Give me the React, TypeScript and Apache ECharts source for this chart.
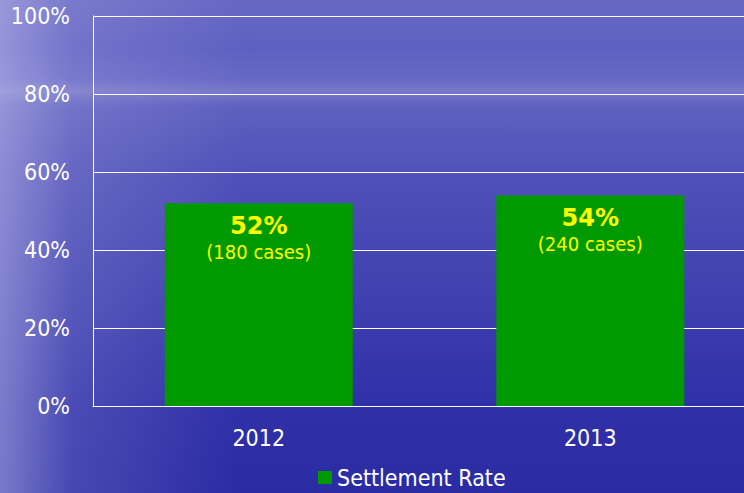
import React, { useEffect, useRef } from "react";
import * as echarts from "echarts";

const categories = ["2012", "2013"];
const settlementRate = [52, 54];
const caseCounts = [180, 240];
const yTicks = [0, 20, 40, 60, 80, 100];
const seriesName = "Settlement Rate";

const FONT = "'DejaVu Sans Condensed', Tahoma, 'DejaVu Sans', sans-serif";

export default function App() {
  const ref = useRef<HTMLDivElement>(null);
  useEffect(() => {
    if (!ref.current) return;
    const chart = echarts.init(ref.current, null, { renderer: "svg" });
    const W = 756;
    const H = 493;
    chart.setOption({
      animation: false,
      graphic: [
        {
          type: "rect",
          silent: true,
          z: -10,
          shape: { x: 0, y: 0, width: W, height: H },
          style: {
            fill: new echarts.graphic.LinearGradient(0, 0, 0, 1, [
              { offset: 0, color: "#6868c4" },
              { offset: 0.1, color: "#6060c2" },
              { offset: 0.16, color: "#6868c6" },
              { offset: 0.185, color: "#7878c9" },
              { offset: 0.215, color: "#6060c0" },
              { offset: 0.35, color: "#5151b9" },
              { offset: 0.6, color: "#4040b0" },
              { offset: 0.82, color: "#3030a8" },
              { offset: 1, color: "#2b2ba4" },
            ]),
          },
        },
        {
          type: "rect",
          silent: true,
          z: -9,
          shape: { x: 0, y: 0, width: 240, height: H },
          style: {
            fill: new echarts.graphic.LinearGradient(0, 0, 1, 0, [
              { offset: 0, color: "rgba(200,200,240,0.5)" },
              { offset: 0.3, color: "rgba(200,200,240,0.18)" },
              { offset: 1, color: "rgba(200,200,240,0)" },
            ]),
          },
        },
      ],
      grid: { left: 93, top: 16, right: 0, height: 390, containLabel: false },
      legend: {
        data: [seriesName],
        left: 318,
        top: 466,
        padding: 0,
        itemWidth: 14,
        itemHeight: 13,
        itemGap: 5,
        icon: "rect",
        textStyle: { color: "#ffffff", fontSize: 23, fontFamily: FONT },
      },
      xAxis: {
        type: "category",
        data: categories,
        axisLine: { show: true, lineStyle: { color: "#ffffff", width: 1 } },
        axisTick: { show: false },
        axisLabel: { color: "#ffffff", fontSize: 23, fontFamily: FONT, margin: 20 },
      },
      yAxis: {
        type: "value",
        min: 0,
        max: 100,
        interval: 20,
        axisLine: { show: true, lineStyle: { color: "#ffffff", width: 1 } },
        axisTick: { show: false },
        splitLine: { show: true, lineStyle: { color: "#ffffff", width: 1 } },
        axisLabel: {
          color: "#ffffff",
          fontSize: 23,
          fontFamily: FONT,
          margin: 23,
          formatter: (v: number) => (yTicks.includes(v) ? v + "%" : ""),
        },
      },
      series: [
        {
          name: seriesName,
          type: "bar",
          data: settlementRate,
          barWidth: 188,
          itemStyle: { color: "#009900" },
          label: {
            show: true,
            position: "insideTop",
            distance: 10,
            formatter: (p: any) =>
              `{a|${settlementRate[p.dataIndex]}%}\n{b|(${caseCounts[p.dataIndex]} cases)}`,
            rich: {
              a: {
                color: "#ffff00",
                fontSize: 24,
                fontWeight: "bold",
                fontFamily: "'DejaVu Sans', Tahoma, sans-serif",
                lineHeight: 26,
                align: "center",
              },
              b: {
                color: "#ffff00",
                fontSize: 20,
                fontFamily: FONT,
                lineHeight: 26,
                align: "center",
              },
            },
          },
        },
      ],
    });
    return () => chart.dispose();
  }, []);
  return (
    <div
      style={{ position: "absolute", left: 0, top: 0, width: 744, height: 493, overflow: "hidden" }}
    >
      <div ref={ref} style={{ width: 756, height: 493 }} />
    </div>
  );
}
